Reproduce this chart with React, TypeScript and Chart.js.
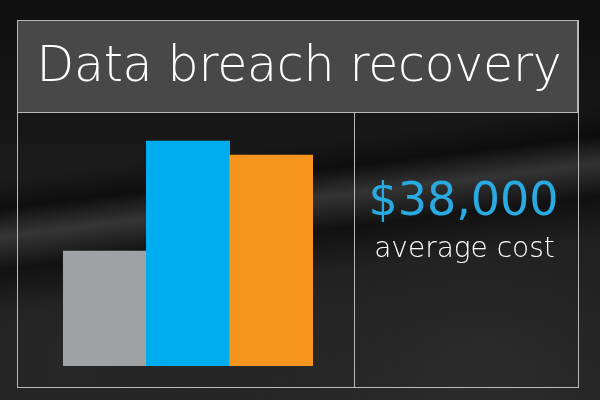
import React, { useEffect, useRef } from "react";
import { Chart, registerables } from "chart.js";

Chart.register(...registerables);

const categories: string[] = ["A", "B", "C"];
const barValues: number[] = [11.5, 22.5, 21.1];
const barColors: string[] = ["#a1a2a6", "#00aeef", "#f7941e"];
const yMax = 25;

const titleText = "Data breach recovery";
const headlineValue = "$38,000";
const headlineLabel = "average cost";

const font = "'DejaVu Sans', sans-serif";

const BarChart = () => {
    const canvasRef = useRef<HTMLCanvasElement | null>(null);

    useEffect(() => {
        const ctx = canvasRef.current?.getContext("2d");
        if (!ctx) return;
        const chart = new Chart(ctx, {
            type: "bar",
            data: {
                labels: categories,
                datasets: [
                    {
                        data: barValues,
                        backgroundColor: barColors,
                        borderWidth: 0,
                        barPercentage: 1,
                        categoryPercentage: 1,
                    },
                ],
            },
            options: {
                animation: false,
                responsive: false,
                maintainAspectRatio: false,
                layout: { padding: 0 },
                plugins: { legend: { display: false }, tooltip: { enabled: false }, title: { display: false } },
                scales: {
                    x: { display: false },
                    y: { display: false, min: 0, max: yMax },
                },
            },
        });
        return () => {
            chart.destroy();
        };
    }, []);

    return (
        <canvas
            ref={canvasRef}
            width={250}
            height={250}
            style={{ position: "absolute", left: 63, top: 116, width: 250, height: 250 }}
        />
    );
};

export default function App() {
    const line = "#b8b8b8";
    return (
        <div
            style={{
                position: "fixed",
                left: 0,
                top: 0,
                width: 600,
                height: 400,
                overflow: "hidden",
                background:
                    "linear-gradient(173deg, rgba(0,0,0,0) 38%, rgba(0,0,0,0.5) 44%, rgba(95,95,95,0.35) 50%, rgba(0,0,0,0.45) 57%, rgba(0,0,0,0) 66%)," +
                    "radial-gradient(ellipse at 80% 92%, rgba(60,60,60,0.45), rgba(0,0,0,0) 50%)," +
                    "radial-gradient(ellipse at 12% 88%, rgba(55,55,55,0.4), rgba(0,0,0,0) 45%)," +
                    "linear-gradient(180deg, #0f0f0f 0%, #191919 40%, #1a1a1a 70%, #1f1f1f 100%)",
            }}
        >
            <BarChart />
            <div
                style={{
                    position: "absolute",
                    left: 17,
                    top: 20,
                    width: 561,
                    height: 93,
                    background: "#484848",
                    border: `1px solid ${line}`,
                    boxSizing: "border-box",
                }}
            />
            <div
                style={{
                    position: "absolute",
                    left: 17,
                    top: 20,
                    width: 562,
                    height: 368,
                    border: `1px solid ${line}`,
                    boxSizing: "border-box",
                }}
            />
            <div style={{ position: "absolute", left: 354, top: 113, width: 1, height: 274, background: line }} />
            <div
                style={{
                    position: "absolute",
                    left: 17,
                    top: 29,
                    width: 562,
                    textAlign: "center",
                    color: "#ffffff",
                    fontFamily: font,
                    fontSize: 49,
                    fontWeight: 200,
                    lineHeight: "72px",
                    letterSpacing: -0.3,
                    whiteSpace: "nowrap",
                    paddingLeft: 2,
                    boxSizing: "border-box",
                }}
            >
                {titleText}
            </div>
            <div
                style={{
                    position: "absolute",
                    left: 351,
                    top: 168,
                    width: 225,
                    textAlign: "center",
                    color: "#29abe2",
                    fontFamily: font,
                    fontSize: 46,
                    lineHeight: "62px",
                    whiteSpace: "nowrap",
                }}
            >
                {headlineValue}
            </div>
            <div
                style={{
                    position: "absolute",
                    left: 352,
                    top: 230,
                    width: 225,
                    textAlign: "center",
                    color: "#ffffff",
                    fontFamily: font,
                    fontSize: 28,
                    fontWeight: 200,
                    lineHeight: "36px",
                    whiteSpace: "nowrap",
                }}
            >
                {headlineLabel}
            </div>
        </div>
    );
}
